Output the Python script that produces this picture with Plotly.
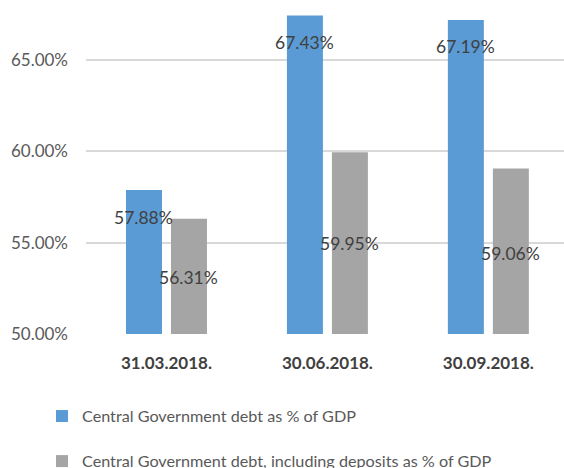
import plotly.graph_objects as go

categories = ["31.03.2018.", "30.06.2018.", "30.09.2018."]
debt = [57.88, 67.43, 67.19]
debt_incl_deposits = [56.31, 59.95, 59.06]
series_names = [
    "Central Government debt as % of GDP",
    "Central Government debt, including deposits as % of GDP",
]
tick_vals = [50, 55, 60, 65]
tick_text = ["50.00%", "55.00%", "60.00%", "65.00%"]

# label vertical offsets (px, style)
blue_label_shift = [-27, -27, -27]
gray_label_shift = [-59, -91, -85]

BLUE = "#5B9BD5"
GRAY = "#A5A5A5"
TXT = "#595959"
FONT = "Lato, Liberation Sans, Arial, sans-serif"

fig = go.Figure()
fig.add_trace(go.Bar(x=categories, y=debt, name=series_names[0],
                     marker=dict(color=BLUE, line=dict(width=0)),
                     legendgroup="a"))
fig.add_trace(go.Bar(x=categories, y=debt_incl_deposits, name=series_names[1],
                     marker=dict(color=GRAY, line=dict(width=0)),
                     legendgroup="b"))

annotations = []
for i, c in enumerate(categories):
    annotations.append(dict(x=c, y=debt[i], xref="x", yref="y",
                            text=f"{debt[i]:.2f}%", showarrow=False,
                            xshift=-22.5, yshift=blue_label_shift[i],
                            yanchor="middle", xanchor="center",
                            font=dict(family=FONT, size=17.5, color="#404040")))
    annotations.append(dict(x=c, y=debt_incl_deposits[i], xref="x", yref="y",
                            text=f"{debt_incl_deposits[i]:.2f}%", showarrow=False,
                            xshift=22.5, yshift=gray_label_shift[i],
                            yanchor="middle", xanchor="center",
                            font=dict(family=FONT, size=17.5, color="#404040")))

fig.update_layout(
    width=564, height=468,
    margin=dict(l=86, r=0, t=0, b=134, autoexpand=False),
    paper_bgcolor="white", plot_bgcolor="white",
    barmode="group", bargap=0.441, bargroupgap=0.2,
    font=dict(family=FONT, color=TXT),
    showlegend=True,
    legend=dict(orientation="v", xref="container", x=42 / 564, xanchor="left",
                yref="container", y=(468 - 399) / 468, yanchor="top",
                traceorder="grouped", tracegroupgap=21,
                font=dict(family=FONT, size=16.2, color=TXT),
                itemwidth=30, bgcolor="rgba(0,0,0,0)"),
    annotations=annotations,
)
fig.update_xaxes(type="category", range=[-0.5, 2.47], showgrid=False, showline=False, ticks="",
                 tickfont=dict(family=FONT, size=17, color="#404040", weight="bold"),
                 tickangle=0, ticklabelstandoff=17)
fig.update_yaxes(range=[50, 68.28], tickvals=tick_vals, ticktext=tick_text,
                 showgrid=True, gridcolor="#D9D9D9", gridwidth=2,
                 zeroline=False, showline=False, ticks="",
                 tickfont=dict(family=FONT, size=17, color=TXT),
                 ticklabelstandoff=17)

fig.write_html("out.html")
